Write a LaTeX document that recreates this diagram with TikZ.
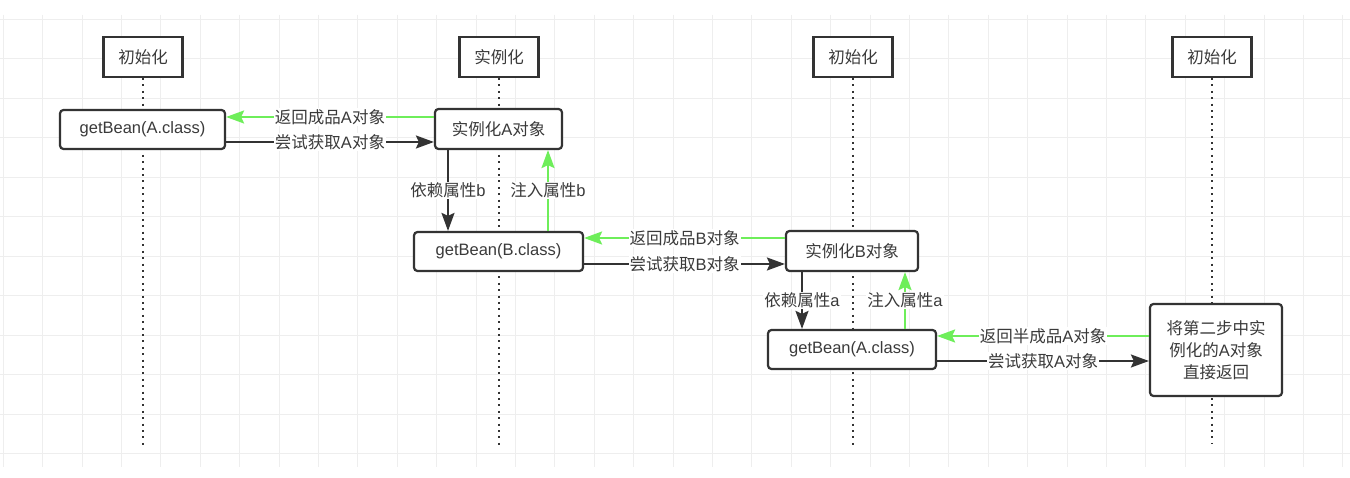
\documentclass[tikz,border=0pt]{standalone}
\usepackage{fontspec}
\setmainfont{Liberation Sans}
\newfontfamily\cjkfont{Noto Sans CJK SC}
\newcommand\zhs[1]{{\cjkfont #1}}
\usetikzlibrary{arrows.meta}
\definecolor{ink}{HTML}{333333}
\definecolor{txt}{HTML}{3A3A3A}
\definecolor{lgreen}{RGB}{110,238,90}
\definecolor{gridc}{RGB}{238,238,238}
\tikzset{
  base/.style={font=\fontsize{16.5}{22}\selectfont, text=txt},
  header/.style={base, draw=ink, line width=2.2pt, fill=white, minimum width=79pt, minimum height=40pt, inner sep=0pt},
  actbox/.style={base, draw=ink, line width=2.2pt, fill=white, rounded corners=3.5pt, inner sep=0pt},
  lifeline/.style={draw=ink, line width=2pt, dash pattern=on 2pt off 4.4pt},
  blackarrow/.style={draw=ink, line width=2pt, -{Stealth[length=18pt,width=13pt,inset=3pt]}},
  greenarrow/.style={draw=lgreen, line width=2pt, -{Stealth[length=18pt,width=13pt,inset=3pt]}},
  lbl/.style={base, fill=white, inner sep=1pt},
  gridline/.style={draw=gridc, line width=0.9pt}
}
\begin{document}
\begin{tikzpicture}[x=1pt,y=-1pt]
\useasboundingbox (0,0) rectangle (1350,478);
\fill[white] (0,0) rectangle (1350,478);
% background grid
\foreach \i in {0,...,34} {\draw[gridline] ({3.2+39.4*\i},15) -- ({3.2+39.4*\i},467);}
\foreach \j in {0,...,11} {\draw[gridline] (0,{19+39.5*\j}) -- (1350,{19+39.5*\j});}

% headers
\node[header] (h1) at (143,57) {\zhs{初始化}};
\node[header] (h2) at (499,57) {\zhs{实例化}};
\node[header] (h3) at (853,57) {\zhs{初始化}};
\node[header] (h4) at (1212,57) {\zhs{初始化}};

% lifeline ends
\coordinate (e1) at (143,445);
\coordinate (e2) at (499,445);
\coordinate (e3) at (853,445);
\coordinate (e4) at (1212,443);
\draw[lifeline] (h1.south) -- (e1);
\draw[lifeline] (h2.south) -- (e2);
\draw[lifeline] (h3.south) -- (e3);
\draw[lifeline] (h4.south) -- (e4);

% activity boxes
\node[actbox, minimum width=165pt, minimum height=39pt] (gA1) at (142.5,129.5) {getBean(A.class)};
\node[actbox, minimum width=127pt, minimum height=40pt] (iA) at (498.5,129) {\zhs{实例化}A\zhs{对象}};
\node[actbox, minimum width=169pt, minimum height=39pt] (gB) at (498.5,251.5) {getBean(B.class)};
\node[actbox, minimum width=132pt, minimum height=40pt] (iB) at (852,251) {\zhs{实例化}B\zhs{对象}};
\node[actbox, minimum width=168pt, minimum height=39pt] (gA3) at (852,349.5) {getBean(A.class)};
\node[actbox, minimum width=132pt, minimum height=92pt, align=center] (ret) at (1216,350) {\zhs{将第二步中实}\\\zhs{例化的}A\zhs{对象}\\\zhs{直接返回}};

% row 1
\draw[greenarrow] (iA.west |- 0,117) -- (gA1.east |- 0,117) node[midway, lbl] {\zhs{返回成品}A\zhs{对象}};
\draw[blackarrow] (gA1.east |- 0,142) -- (iA.west |- 0,142) node[midway, lbl] {\zhs{尝试获取}A\zhs{对象}};
% A -> B vertical
\draw[blackarrow] (iA.south -| 448,0) -- (gB.north -| 448,0) node[midway, lbl] {\zhs{依赖属性}b};
\draw[greenarrow] (gB.north -| 548,0) -- (iA.south -| 548,0) node[midway, lbl] {\zhs{注入属性}b};
% row 2
\draw[greenarrow] (iB.west |- 0,238) -- (gB.east |- 0,238) node[midway, lbl] {\zhs{返回成品}B\zhs{对象}};
\draw[blackarrow] (gB.east |- 0,264) -- (iB.west |- 0,264) node[midway, lbl] {\zhs{尝试获取}B\zhs{对象}};
% B -> A vertical
\draw[blackarrow] (iB.south -| 802,0) -- (gA3.north -| 802,0) node[midway, lbl] {\zhs{依赖属性}a};
\draw[greenarrow] (gA3.north -| 905,0) -- (iB.south -| 905,0) node[midway, lbl] {\zhs{注入属性}a};
% row 3
\draw[greenarrow] (ret.west |- 0,336) -- (gA3.east |- 0,336) node[midway, lbl] {\zhs{返回半成品}A\zhs{对象}};
\draw[blackarrow] (gA3.east |- 0,361) -- (ret.west |- 0,361) node[midway, lbl] {\zhs{尝试获取}A\zhs{对象}};
\end{tikzpicture}
\end{document}
